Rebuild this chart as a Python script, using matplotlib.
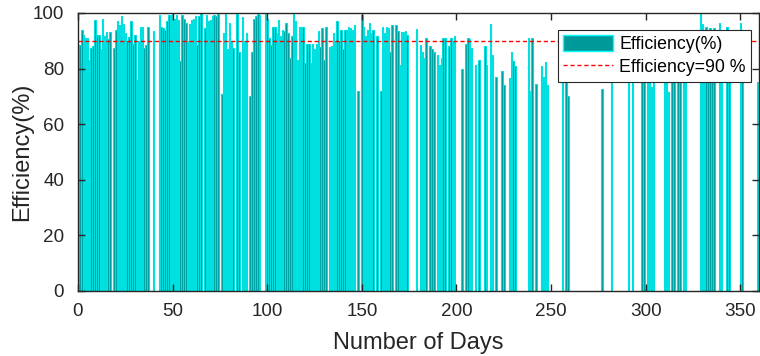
import matplotlib
matplotlib.use("Agg")
import matplotlib.pyplot as plt
from matplotlib.patches import Patch
from matplotlib.lines import Line2D

plt.rcParams['font.family'] = ['Liberation Sans', 'DejaVu Sans']

# Day numbers that have a bar, and the efficiency (%) read for each
days = [1, 2, 3, 4, 5, 6, 7, 8, 9, 10, 11, 12, 13, 14, 15, 16, 17, 19, 20, 21,
        22, 23, 24, 25, 26, 27, 28, 29, 30, 31, 32, 33, 34, 35, 36, 37, 40, 43, 44, 45,
        46, 47, 48, 49, 50, 51, 52, 53, 54, 55, 56, 57, 58, 59, 60, 61, 62, 63, 64, 65,
        67, 68, 69, 70, 71, 72, 73, 74, 76, 77, 78, 79, 80, 81, 82, 84, 85, 87, 88, 89,
        91, 92, 93, 94, 95, 96, 99, 100, 101, 102, 103, 104, 105, 106, 107, 108, 109, 110, 111, 112,
        113, 114, 115, 116, 117, 118, 119, 120, 121, 122, 123, 124, 125, 126, 127, 128, 129, 130, 131, 133,
        134, 135, 136, 137, 138, 139, 140, 141, 142, 143, 144, 145, 146, 148, 150, 151, 152, 153, 154, 155,
        156, 158, 160, 161, 162, 163, 164, 165, 166, 168, 169, 170, 171, 172, 173, 174, 179, 181, 182, 183,
        184, 186, 187, 188, 190, 191, 192, 193, 194, 196, 197, 198, 199, 203, 205, 206, 207, 208, 210, 212,
        215, 216, 218, 219, 221, 224, 225, 228, 229, 230, 231, 238, 239, 240, 242, 245, 246, 247, 248, 256,
        258, 259, 277, 282, 291, 293, 298, 299, 301, 302, 303, 304, 310, 311, 312, 314, 315, 317, 318, 320,
        321, 329, 330, 331, 332, 333, 334, 335, 336, 339, 340, 343, 344, 350, 351, 359]
efficiency = [88.6, 94, 92, 91, 91, 83, 87.5, 88, 97.6, 92, 92, 87, 98, 91.6, 93, 90.5, 93, 87.5, 94, 97,
              95.7, 99, 96, 92.8, 89.8, 91.5, 97, 89, 92, 76, 90, 95, 95, 87.4, 88.6, 95, 93.6, 99.4, 95, 94.6,
              94, 97, 99.4, 99.4, 99.6, 98, 99.4, 97.6, 82.6, 99.4, 98, 96.4, 90, 96, 97.6, 98, 99, 88.6, 99, 100,
              94.6, 99.4, 97, 97.6, 99, 99.4, 99, 99.6, 71, 92.8, 99.6, 87, 96.4, 90, 87.4, 99.6, 86, 98.5, 90, 92.8,
              70, 86, 98, 99, 99.6, 99.4, 99.6, 98, 91, 88.6, 95, 95, 92.8, 97.6, 91.6, 94, 93.4, 96.4, 92.8, 83.8,
              91.6, 99.6, 97, 83, 95, 95, 95, 82, 89, 89, 82, 89, 87, 89, 93.6, 87.6, 94.6, 83, 95, 87.6,
              88, 92.8, 90, 97, 90, 94, 87, 94, 94, 94.8, 94.6, 94, 95.5, 72, 99.4, 95, 91.6, 94, 96.4, 92.8,
              94, 91.6, 71.8, 95, 92.8, 95, 94.6, 86, 95.6, 95.6, 93.4, 81.4, 93, 93, 93.4, 92.2, 94.2, 88.6, 86, 83.8,
              91, 88, 87, 86, 85, 81.4, 83.8, 91, 91, 88, 91, 90, 91.6, 80, 89, 91, 90.8, 87.4, 81.4, 83,
              88, 81.4, 96, 85, 77, 79, 74, 76.6, 86, 82.6, 81, 91, 72, 91, 74.5, 81, 77, 82.5, 74, 86,
              84, 70, 72.7, 88, 85, 87, 90, 84, 88, 86, 73.5, 80, 89, 82, 71.6, 86, 92, 88, 84, 90,
              87, 100, 96, 85, 95, 88, 94.6, 86, 94.6, 96.4, 88, 95, 86, 96.4, 85, 75]

threshold = 90
x_ticks = [0, 50, 100, 150, 200, 250, 300, 350]
y_ticks = [0, 20, 40, 60, 80, 100]

fig = plt.figure(figsize=(7.6, 3.56), dpi=100)
ax = fig.add_axes([0.1026, 0.1826, 0.8964, 0.781])

face = '#009999'
edge = '#00E0E0'
ax.bar(days, efficiency, width=0.8, color=face, edgecolor=edge, linewidth=0.8)
ax.axhline(threshold, color='#FF0000', linestyle=(0, (3, 2)), linewidth=1.0)

ax.set_xlim(0, 360)
ax.set_ylim(0, 100)
ax.set_xticks(x_ticks)
ax.set_yticks(y_ticks)
ax.tick_params(direction='in', length=5, width=1, colors='#262626', labelsize=13.6,
               top=True, right=True)
ax.tick_params(axis='x', pad=9)
ax.tick_params(axis='y', pad=10)
for s in ax.spines.values():
    s.set_color('#262626')
    s.set_linewidth(1)
ax.set_xlabel('Number of Days', fontsize=17, color='#262626', labelpad=8)
ax.set_ylabel('Efficiency(%)', fontsize=17, color='#262626', labelpad=0)

handles = [Patch(facecolor=face, edgecolor='#00FFFF', linewidth=1),
           Line2D([0], [0], color='#FF0000', linestyle=(0, (3, 2)), linewidth=1.0)]
leg = ax.legend(handles, ['Efficiency(%)', 'Efficiency=90 %'], loc='upper right',
                bbox_to_anchor=(0.988, 0.94), fontsize=12.8, frameon=True, fancybox=False,
                edgecolor='#262626', framealpha=1, handlelength=2.8, handleheight=1.0,
                borderpad=0.3, labelspacing=0.3, handletextpad=0.35, borderaxespad=0)
leg.get_frame().set_linewidth(0.8)

fig.savefig('out.png', dpi=100)
